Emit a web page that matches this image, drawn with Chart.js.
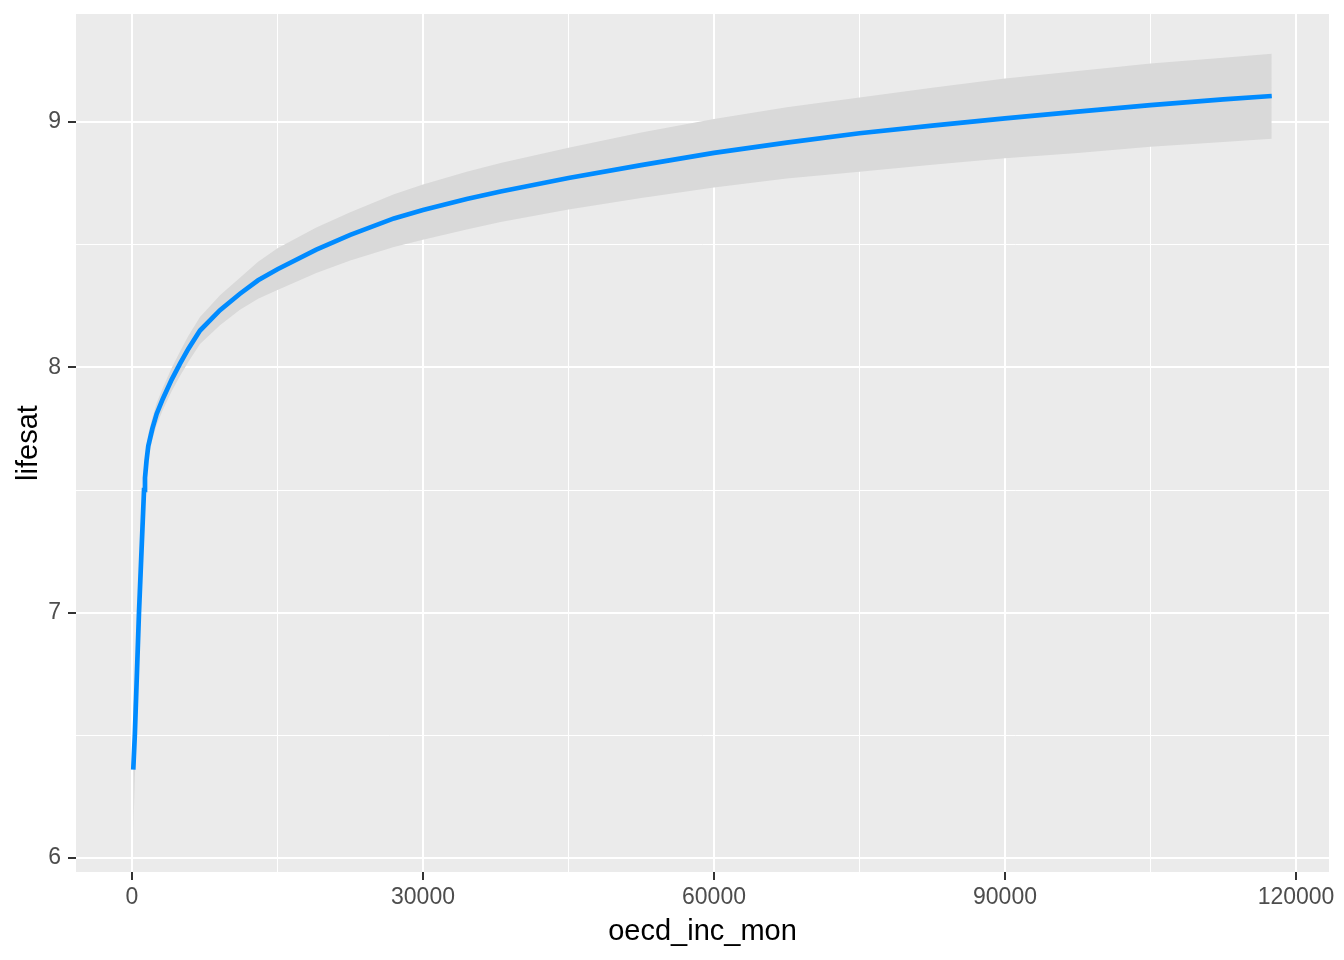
<!DOCTYPE html>
<html>
<head>
<meta charset="utf-8">
<script src="https://cdn.jsdelivr.net/npm/chart.js@4.4.1/dist/chart.umd.min.js"></script>
<style>
  html, body { margin: 0; padding: 0; background: #ffffff; }
  #wrap { width: 1344px; height: 960px; }
</style>
</head>
<body>
<div id="wrap"><canvas id="myChart" width="1344" height="960"></canvas></div>
<script>
// income values (x)
var income = [130, 290, 720, 1000, 1240, 1340, 1500, 1680, 2100, 2540, 3160, 4090, 4950, 5800, 7010, 9070,
    11130, 13000, 15000, 19000, 22500, 27000, 30000, 34500, 38000, 45000, 52500, 60000, 67500, 75000,
    82500, 90000, 97500, 105000, 112500, 117500];
// fitted lifesat
var fitted = [6.36, 6.50, 7.00, 7.27, 7.50, 7.55, 7.62, 7.68, 7.75, 7.81, 7.87, 7.95, 8.015, 8.075, 8.15, 8.233,
    8.30, 8.355, 8.40, 8.48, 8.54, 8.607, 8.641, 8.686, 8.717, 8.772, 8.824, 8.874, 8.916, 8.954,
    8.985, 9.015, 9.042, 9.069, 9.092, 9.106];
// confidence band
var lower = [6.10, 6.32, 6.90, 7.19, 7.435, 7.49, 7.565, 7.63, 7.705, 7.765, 7.825, 7.903, 7.965, 8.022, 8.095, 8.172,
    8.235, 8.28, 8.315, 8.385, 8.435, 8.49, 8.52, 8.562, 8.592, 8.643, 8.69, 8.733, 8.77, 8.797,
    8.826, 8.852, 8.874, 8.899, 8.918, 8.932];
var upper = [6.62, 6.68, 7.10, 7.35, 7.565, 7.61, 7.675, 7.73, 7.795, 7.855, 7.915, 7.997, 8.065, 8.128, 8.205, 8.294,
    8.365, 8.43, 8.485, 8.57, 8.632, 8.705, 8.745, 8.797, 8.833, 8.895, 8.957, 9.012, 9.06, 9.10,
    9.14, 9.177, 9.208, 9.238, 9.262, 9.278];

var xTicks = [0, 15000, 30000, 45000, 60000, 75000, 90000, 105000, 120000];
var yTicks = [6, 6.5, 7, 7.5, 8, 8.5, 9];

function toPoints(xs, ys) {
    return xs.map(function (x, i) { return { x: x, y: ys[i] }; });
}

function isMajorX(v) { return v % 30000 === 0; }
function isMajorY(v) { return Number.isInteger(v); }

// grey panel behind the grid
var panelBg = {
    id: 'panelBg',
    beforeDraw: function (chart) {
        var a = chart.chartArea, ctx = chart.ctx;
        ctx.save();
        ctx.fillStyle = '#ffffff';
        ctx.fillRect(0, 0, chart.width, chart.height);
        ctx.fillStyle = '#EBEBEB';
        ctx.fillRect(a.left, a.top, a.right - a.left, a.bottom - a.top);
        ctx.restore();
    }
};

// keep the panel where ggplot had it
function noPadding(scale) {
    scale.paddingTop = 0;
    scale.paddingBottom = 0;
    scale.paddingLeft = 0;
    scale.paddingRight = 0;
}

var font = "'Liberation Sans', Arial, sans-serif";

var ctx = document.getElementById('myChart').getContext('2d');
var myChart = new Chart(ctx, {
    type: 'line',
    data: {
        datasets: [{
            label: 'fit',
            data: toPoints(income, fitted),
            borderColor: '#008BFF',
            borderWidth: 4.7,
            pointRadius: 0,
            fill: false,
            tension: 0
        }, {
            label: 'upper',
            data: toPoints(income, upper),
            borderWidth: 0,
            borderColor: 'rgba(0,0,0,0)',
            backgroundColor: '#D9D9D9',
            pointRadius: 0,
            fill: '+1',
            tension: 0
        }, {
            label: 'lower',
            data: toPoints(income, lower),
            borderWidth: 0,
            borderColor: 'rgba(0,0,0,0)',
            pointRadius: 0,
            fill: false,
            tension: 0
        }]
    },
    options: {
        responsive: false,
        animation: false,
        devicePixelRatio: 1,
        layout: { padding: { left: 0, top: 14, right: 15, bottom: 0 } },
        plugins: {
            legend: { display: false },
            tooltip: { enabled: false }
        },
        scales: {
            x: {
                type: 'linear',
                min: -5773,
                max: 123402,
                afterBuildTicks: function (scale) {
                    scale.ticks = xTicks.map(function (v) { return { value: v }; });
                },
                afterFit: function (scale) { scale.height = 88; noPadding(scale); },
                ticks: {
                    autoSkip: false,
                    maxRotation: 0,
                    padding: 4,
                    color: '#4D4D4D',
                    font: { family: font, size: 23 },
                    callback: function (v) { return isMajorX(v) ? String(v) : ''; }
                },
                grid: {
                    color: '#ffffff',
                    lineWidth: function (c) { return isMajorX(c.tick.value) ? 2 : 1; },
                    tickColor: function (c) { return isMajorX(c.tick.value) ? '#333333' : 'rgba(0,0,0,0)'; },
                    tickLength: 8,
                    tickWidth: 2
                },
                border: { display: false },
                title: {
                    display: true,
                    text: 'oecd_inc_mon',
                    color: '#000000',
                    font: { family: font, size: 29 },
                    padding: { top: 0, bottom: 11 }
                }
            },
            y: {
                type: 'linear',
                min: 5.943,
                max: 9.4402,
                afterBuildTicks: function (scale) {
                    scale.ticks = yTicks.map(function (v) { return { value: v }; });
                },
                afterFit: function (scale) { scale.width = 76; noPadding(scale); },
                ticks: {
                    autoSkip: false,
                    padding: 7,
                    color: '#4D4D4D',
                    font: { family: font, size: 23 },
                    callback: function (v) { return isMajorY(v) ? String(v) : ''; }
                },
                grid: {
                    color: '#ffffff',
                    lineWidth: function (c) { return isMajorY(c.tick.value) ? 2 : 1; },
                    tickColor: function (c) { return isMajorY(c.tick.value) ? '#333333' : 'rgba(0,0,0,0)'; },
                    tickLength: 8,
                    tickWidth: 2
                },
                border: { display: false },
                title: {
                    display: true,
                    text: 'lifesat',
                    color: '#000000',
                    font: { family: font, size: 29 },
                    padding: { top: 12, bottom: 0 }
                }
            }
        }
    },
    plugins: [panelBg]
});
</script>
</body>
</html>
